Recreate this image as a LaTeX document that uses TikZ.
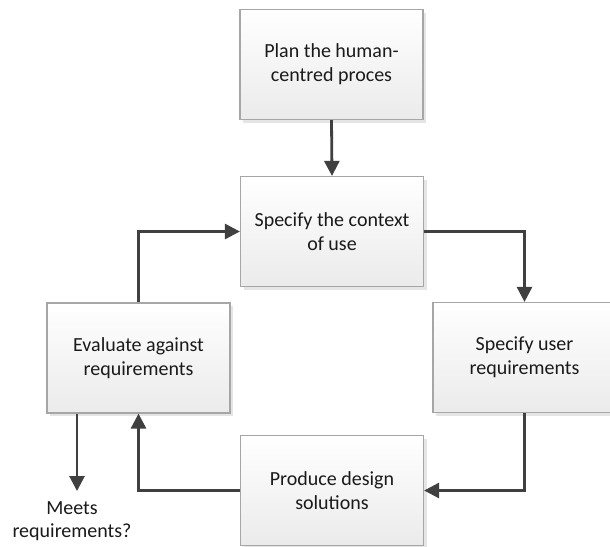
\documentclass[tikz,border=0pt]{standalone}
\usepackage{fontspec}
\setmainfont{Carlito}
\usetikzlibrary{arrows.meta,shadows,positioning}
\definecolor{boxline}{HTML}{A6A6A6}
\definecolor{arrowc}{HTML}{404040}
\definecolor{txt}{HTML}{1A1A1A}
\tikzset{
  stepbox/.style={rectangle, draw=boxline, line width=1.2pt,
    top color=white, bottom color=black!8,
    minimum width=183pt, minimum height=110pt, inner sep=0pt,
    align=center, text=txt, font=\fontsize{20}{24}\selectfont,
    drop shadow={shadow xshift=3pt, shadow yshift=-3pt, fill=black!10, opacity=1}},
  flow/.style={draw=arrowc, line width=2.8pt,
    -{Triangle[length=15pt,width=15pt]}},
  lbl/.style={align=center, text=txt, font=\fontsize{20}{23}\selectfont, inner sep=0pt}
}
\begin{document}
\begin{tikzpicture}[x=1pt,y=-1pt]
\useasboundingbox[fill=white] (0,0) rectangle (610,546);
\node[stepbox] (plan) at (331.5,64.5) {Plan the human-\\centred proces};
\node[stepbox] (ctx) at (332,231.5) {Specify the context\\of use};
\node[stepbox] (eval) at (138.5,358) {Evaluate against\\requirements};
\node[stepbox] (user) at (524.5,357.5) {Specify user\\requirements};
\node[stepbox] (prod) at (332,490.5) {Produce design\\solutions};
\coordinate (meetsend) at (77,491);
\node[lbl] (meets) at (72,521) {Meets\\requirements?};

\draw[flow] (plan.south) -- (ctx.north);
\draw[flow] (ctx.east) -| (user.north);
\draw[flow] (user.south) |- (prod.east);
\draw[flow] (prod.west) -| (eval.south);
\draw[flow] (eval.north) |- (ctx.west);
\draw[flow] (eval.south -| meetsend) -- (meetsend);
\end{tikzpicture}
\end{document}
